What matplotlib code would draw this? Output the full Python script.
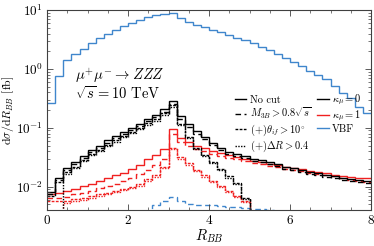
import matplotlib
matplotlib.use("Agg")
import matplotlib.pyplot as plt
import numpy as np

plt.rcParams['font.family'] = 'serif'
plt.rcParams['font.serif'] = ['cmr10', 'DejaVu Serif']
plt.rcParams['mathtext.fontset'] = 'cm'
plt.rcParams['axes.formatter.use_mathtext'] = True

# bin edges of R_BB (0.2 wide bins)
bin_edges = np.arange(0, 8.01, 0.2)

# VBF, no cut
vbf = [0.26, 0.76, 1.41, 1.77, 2.21, 2.8, 3.37, 3.95, 4.6, 5.3,
       6.05, 6.9, 7.6, 8.2, 8.6, 9.0, 7.3, 6.2, 5.6, 5.1,
       4.67, 4.2, 3.8, 3.42, 3.05, 2.71, 2.39, 2.07, 1.82, 1.54,
       1.32, 1.11, 0.93, 0.79, 0.67, 0.52, 0.39, 0.32, 0.23, 0.18]
# VBF with cuts
vbf_cut = [0.0008, 0.001, 0.0012, 0.0014, 0.0016, 0.0018, 0.002, 0.0022, 0.0025, 0.0028,
           0.003, 0.0033, 0.0037, 0.0048, 0.0058, 0.0068, 0.0056, 0.0051, 0.0049, 0.0048,
           0.0048, 0.0047, 0.0046, 0.0045, 0.0044, 0.0042, 0.0041, 0.004, 0.0039, 0.0037,
           0.0035, 0.0033, 0.0031, 0.003, 0.0028, 0.0027, 0.0025, 0.0024, 0.0022, 0.002]

# kappa_mu = 0 (black)
k0_nocut = [0.0081, 0.0143, 0.0205, 0.0258, 0.0334, 0.042, 0.049, 0.061, 0.072, 0.085,
            0.101, 0.118, 0.14, 0.165, 0.205, 0.28, 0.157, 0.115, 0.088, 0.071,
            0.056, 0.046, 0.039, 0.036, 0.033, 0.030, 0.028, 0.026, 0.024, 0.022,
            0.0205, 0.019, 0.018, 0.017, 0.016, 0.015, 0.0143, 0.0137, 0.0131, 0.0126]
k0_m3b = [0.0075, 0.0132, 0.0189, 0.0238, 0.0308, 0.0387, 0.0452, 0.0562, 0.0664, 0.0784,
          0.093, 0.109, 0.129, 0.152, 0.189, 0.255, 0.142, 0.104, 0.080, 0.064,
          0.051, 0.042, 0.0355, 0.033, 0.0303, 0.0276, 0.0258, 0.024, 0.0221, 0.0203,
          0.0189, 0.0175, 0.0166, 0.0157, 0.0147, 0.0138, 0.0131, 0.0125, 0.012, 0.0116]
k0_theta = [0.0069, 0.0122, 0.0175, 0.022, 0.0285, 0.0358, 0.0418, 0.052, 0.0613, 0.0724,
            0.086, 0.1, 0.119, 0.14, 0.176, 0.24, 0.115, 0.07, 0.046, 0.035,
            0.026, 0.02, 0.015, 0.0115, 0.0065, 0, 0, 0, 0, 0,
            0, 0, 0, 0, 0, 0, 0, 0, 0, 0]
k0_dr = [0, 0, 0.0165, 0.0208, 0.027, 0.034, 0.0397, 0.0494, 0.0583, 0.0688,
         0.082, 0.095, 0.113, 0.133, 0.168, 0.23, 0.11, 0.066, 0.043, 0.033,
         0.025, 0.019, 0.0143, 0.011, 0.0062, 0, 0, 0, 0, 0,
         0, 0, 0, 0, 0, 0, 0, 0, 0, 0]

# kappa_mu = 1 (red)
k1_nocut = [0.0075, 0.0078, 0.0083, 0.0092, 0.0101, 0.0111, 0.0125, 0.0138, 0.0155, 0.0172,
            0.02, 0.0232, 0.029, 0.034, 0.043, 0.096, 0.068, 0.058, 0.05, 0.045,
            0.041, 0.037, 0.034, 0.0315, 0.0295, 0.0275, 0.026, 0.0245, 0.023, 0.0218,
            0.0206, 0.0196, 0.0186, 0.0177, 0.0168, 0.016, 0.0153, 0.0147, 0.0142, 0.0138]
k1_m3b = [0.0063, 0.0064, 0.0067, 0.0074, 0.0079, 0.0085, 0.0094, 0.0102, 0.0113, 0.0124,
          0.0142, 0.0162, 0.0195, 0.0235, 0.03, 0.078, 0.057, 0.05, 0.044, 0.04,
          0.0365, 0.0335, 0.031, 0.029, 0.0272, 0.0255, 0.024, 0.0227, 0.0214, 0.0203,
          0.0192, 0.0182, 0.0173, 0.0164, 0.0156, 0.0149, 0.0138, 0.0131, 0.0125, 0.012]
k1_theta = [0.0056, 0.0056, 0.0058, 0.0061, 0.0065, 0.0069, 0.0074, 0.0079, 0.0085, 0.0092,
            0.01, 0.011, 0.0135, 0.016, 0.022, 0.046, 0.032, 0.025, 0.0195, 0.0155,
            0.0125, 0.0102, 0.0085, 0.007, 0.0056, 0, 0, 0, 0, 0,
            0, 0, 0, 0, 0, 0, 0, 0, 0, 0]
k1_dr = [0, 0, 0.0052, 0.0056, 0.006, 0.0064, 0.0069, 0.0074, 0.008, 0.0087,
         0.0095, 0.0104, 0.0125, 0.0148, 0.0205, 0.043, 0.03, 0.0235, 0.0185, 0.0148,
         0.012, 0.0098, 0.0082, 0.0068, 0.0054, 0, 0, 0, 0, 0,
         0, 0, 0, 0, 0, 0, 0, 0, 0, 0]

black = 'black'
red = '#f02020'
blue = '#3f86cc'
lw = 1.0

fig = plt.figure(figsize=(3.74, 2.46), dpi=100)
ax = fig.add_axes([0.126, 0.146, 0.866, 0.813])
ax.set_yscale('log', nonpositive='clip')

ax.stairs(vbf, bin_edges, color=blue, lw=lw, baseline=None)
ax.stairs(vbf_cut, bin_edges, color=blue, lw=lw, ls=(0, (4, 2.5)), baseline=None)

ax.stairs(k1_nocut, bin_edges, color=red, lw=lw, baseline=None)
ax.stairs(k1_m3b, bin_edges, color=red, lw=lw, ls=(0, (4, 2.5)), baseline=None)
ax.stairs(k1_theta, bin_edges, color=red, lw=lw, ls=(0, (2, 1)), baseline=None)
ax.stairs(k1_dr, bin_edges, color=red, lw=lw, ls=(0, (1, 1)), baseline=None)

ax.stairs(k0_nocut, bin_edges, color=black, lw=lw, baseline=None)
ax.stairs(k0_m3b, bin_edges, color=black, lw=lw, ls=(0, (4, 2.5)), baseline=None)
ax.stairs(k0_theta, bin_edges, color=black, lw=lw, ls=(0, (2, 1)), baseline=None)
ax.stairs(k0_dr, bin_edges, color=black, lw=lw, ls=(0, (1, 1)), baseline=None)

ax.set_xlim(0, 8)
ax.set_ylim(4e-3, 10)
ax.set_xticks([0, 2, 4, 6, 8])
ax.set_xticks(np.arange(0, 8.01, 0.5), minor=True)
ax.tick_params(which='both', direction='in', top=True, right=True, labelsize=9.5,
               color='0.25')
ax.tick_params(which='major', length=4, width=0.6)
ax.tick_params(which='minor', length=2, width=0.5)
ax.tick_params(axis='x', pad=3)
ax.tick_params(axis='y', pad=3)
for s in ax.spines.values():
    s.set_color('0.25')
    s.set_linewidth(0.8)

ax.set_xlabel(r'$R_{BB}$', fontsize=10.5)
ax.xaxis.set_label_coords(0.5, -0.085)
ax.set_ylabel(r'$\mathrm{d}\sigma/\mathrm{d}R_{BB}$ [fb]', fontsize=8.5)
ax.yaxis.set_label_coords(-0.097, 0.5)

ax.text(0.087, 0.675, r'$\mu^{+}\mu^{-}\rightarrow ZZZ$', transform=ax.transAxes,
        fontsize=10.5, va='center')
ax.text(0.087, 0.585, r'$\sqrt{s}=10$ TeV', transform=ax.transAxes,
        fontsize=10.5, va='center')

# legend
handles = [
    plt.Line2D([], [], color=black, lw=lw),
    plt.Line2D([], [], color=black, lw=lw, ls=(0, (4, 2.5))),
    plt.Line2D([], [], color=black, lw=lw, ls=(0, (2, 1))),
    plt.Line2D([], [], color=black, lw=lw, ls=(0, (1, 1))),
    plt.Line2D([], [], color=black, lw=lw),
    plt.Line2D([], [], color=red, lw=lw),
    plt.Line2D([], [], color=blue, lw=lw),
]
labels = ['No cut', r'$M_{3B}>0.8\sqrt{s}$', r'$(+)\theta_{if}>10^{\circ}$',
          r'$(+)\Delta R>0.4$', r'$\kappa_{\mu}=0$', r'$\kappa_{\mu}=1$', 'VBF']
ax.legend(handles, labels, loc='upper left', bbox_to_anchor=(0.58, 0.585), ncol=2,
          frameon=False, fontsize=7.5, handlelength=1.1, handletextpad=0.3,
          columnspacing=0.6, labelspacing=0.12, borderpad=0, borderaxespad=0)

fig.savefig('out.png', dpi=100)
